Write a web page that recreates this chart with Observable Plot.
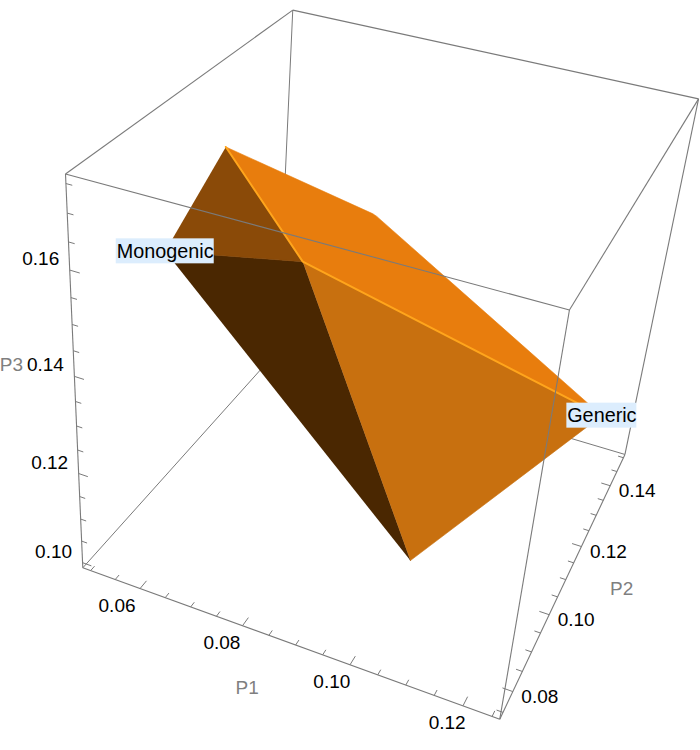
<!DOCTYPE html>
<html><head><meta charset="utf-8">
<script src="https://cdn.jsdelivr.net/npm/d3@7"></script>
<script src="https://cdn.jsdelivr.net/npm/@observablehq/plot@0.6"></script>
<style>html,body{margin:0;padding:0;background:#fff;overflow:hidden}svg{display:block}</style>
</head><body><div id="chart"></div>
<script>
// Axis extents of the box
const P1box = [0.0484, 0.1263];
const P2box = [0.0734, 0.1512];
const P3box = [0.0988, 0.1766];
// Tick values
const P1major = [0.06, 0.08, 0.10, 0.12];
const P2major = [0.08, 0.10, 0.12, 0.14];
const P3major = [0.10, 0.12, 0.14, 0.16];
const P1minor = [0.05, 0.055, 0.065, 0.07, 0.075, 0.085, 0.09, 0.095, 0.105, 0.11, 0.115, 0.125];
const P2minor = [0.075, 0.085, 0.09, 0.095, 0.105, 0.11, 0.115, 0.125, 0.13, 0.135, 0.145, 0.15];
const P3minor = [0.105, 0.11, 0.115, 0.125, 0.13, 0.135, 0.145, 0.15, 0.155, 0.165, 0.17, 0.175];
// Polytope vertices [P1, P2, P3]
const generic = [0.1246, 0.125, 0.125];
const monogenic = [0.05, 0.10, 0.1503];
const bottom = [0.10, 0.10, 0.1005];
const apex = [0.0625, 0.0975, 0.1743];
const ridge = [0.0758, 0.10, 0.1557];
const shoulderA = [0.0778, 0.125, 0.1533];
const shoulderB = [0.0786, 0.125, 0.153];
// Perspective camera: unit box coordinates to the picture plane
const camX = [371.7, 258.7, -27.7, 82.3];
const camY = [86.2, -135.4, -421.6, 567.3];
const camW = [-0.0907, 0.232, -0.16, 1];

function project([a, b, c]) {
  const u = (a - P1box[0]) / (P1box[1] - P1box[0]);
  const v = (b - P2box[0]) / (P2box[1] - P2box[0]);
  const w = (c - P3box[0]) / (P3box[1] - P3box[0]);
  const dot = m => m[0] * u + m[1] * v + m[2] * w + m[3];
  const h = dot(camW);
  return [dot(camX) / h, dot(camY) / h];
}
const px = d => project(d)[0], py = d => project(d)[1];

const [a0, a1] = P1box, [b0, b1] = P2box, [c0, c1] = P3box;
const E = [a0,b0,c0], F = [a1,b0,c0], G = [a1,b1,c0], H = [a0,b1,c0];
const A = [a0,b0,c1], D = [a1,b0,c1], C = [a1,b1,c1], B = [a0,b1,c1];
const backEdges = [[B,H],[E,H],[G,H]];
const frontEdges = [[A,E],[E,F],[F,G],[G,C],[A,B],[B,C],[C,D],[D,A],[D,F]];

const edgeMark = (edges, w) => Plot.link(edges, {
  x1: e => px(e[0]), y1: e => py(e[0]), x2: e => px(e[1]), y2: e => py(e[1]),
  stroke: "#7a7a7a", strokeWidth: w
});
const face = (pts, fill) => Plot.line(pts, {x: px, y: py, fill, stroke: fill, strokeWidth: 0.6});
const ticks = (values, at, toward, len) => Plot.link(values, {
  x1: t => px(at(t)), y1: t => py(at(t)),
  x2: t => px(toward(at(t), len)), y2: t => py(toward(at(t), len)),
  stroke: "#7a7a7a", strokeWidth: 1
});

const onP1 = t => [t, b0, c0], onP2 = t => [a1, t, c0], onP3 = t => [a0, b0, t];
const towardP2 = (p, l) => [p[0], p[1] + l, p[2]];
const backP1 = (p, l) => [p[0] - l, p[1], p[2]];
const towardP1 = (p, l) => [p[0] + l, p[1], p[2]];
const fmt = d3.format(".2f");
const font = {fontFamily: "Liberation Sans, Arial, sans-serif"};

const tickLabels = (values, at, dxOf, dy) => values.map((t, i) => Plot.text([t], {
  x: t => px(at(t)), y: t => py(at(t)), text: fmt, dx: dxOf(i), dy,
  fontSize: 19, fill: "#000", ...font
}));
const axisTitle = (label, at, dx, dy) => Plot.text([label], {
  x: () => px(at), y: () => py(at), text: d => d, dx, dy, fontSize: 19, fill: "#7f7f7f", ...font
});
const callout = (label, at, hw, hh) => [
  Plot.rect([at], {x1: d => px(d) - hw, x2: d => px(d) + hw, y1: d => py(d) - hh, y2: d => py(d) + hh, fill: "#dcedfd"}),
  Plot.text([at], {x: px, y: py, text: () => label, fontSize: 19.8, fill: "#000", ...font})
];

const chart = Plot.plot({
  width: 700, height: 750, margin: 0,
  x: {type: "linear", domain: [0, 700], range: [0, 700], axis: null},
  y: {type: "linear", domain: [0, 750], range: [0, 750], axis: null},
  marks: [
    edgeMark(backEdges, 1),
    face([monogenic, ridge, bottom], "#4a2701"),
    face([apex, ridge, monogenic], "#8a4a08"),
    face([ridge, generic, bottom], "#c8700f"),
    face([apex, shoulderA, shoulderB, generic, ridge], "#e87d0d"),
    Plot.line([apex, ridge, generic], {x: px, y: py, stroke: "#ffa51c", strokeWidth: 2}),
    edgeMark(frontEdges, 1.1),
    ticks(P1major, onP1, towardP2, 0.0022),
    ticks(P1minor, onP1, towardP2, 0.0013),
    ticks(P2major, onP2, backP1, 0.0018),
    ticks(P2minor, onP2, backP1, 0.0011),
    ticks(P3major, onP3, towardP1, 0.0018),
    ticks(P3minor, onP3, towardP1, 0.0011),
    ...tickLabels(P1major, onP1, i => -23 + i * 2.4, 17.5),
    ...tickLabels(P2major, onP2, () => 27, 5),
    ...tickLabels(P3major, onP3, () => -29, -11),
    axisTitle("P1", onP1(0.0875), -35, 48),
    axisTitle("P2", onP2(0.115), 48, 26),
    axisTitle("P3", onP3(0.14), -63, -11),
    ...callout("Monogenic", monogenic, 49, 12.5),
    ...callout("Generic", generic, 35, 12.5)
  ]
});
document.getElementById("chart").append(chart);
</script></body></html>
